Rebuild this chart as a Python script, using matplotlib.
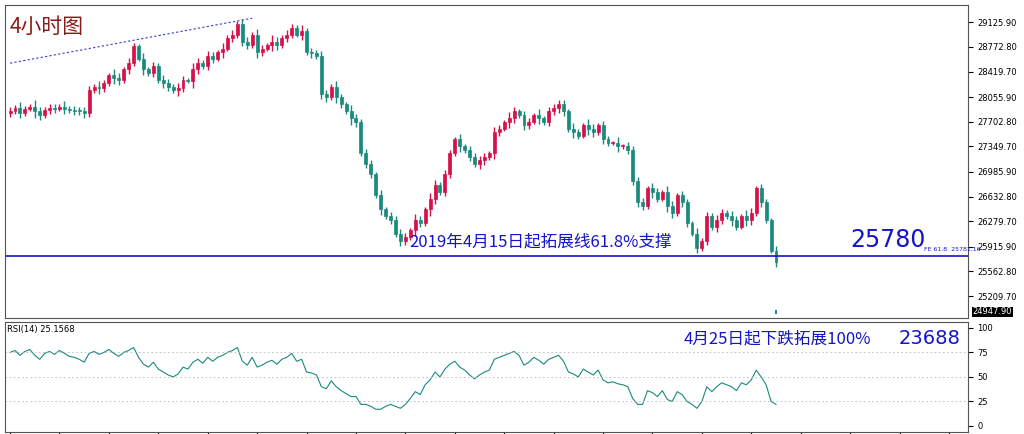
import matplotlib
matplotlib.use("Agg")
import matplotlib.pyplot as plt
import numpy as np

closes = [27860,27900,27830,27880,27920,27850,27800,27870,27900,27880,27920,27890,27870,27860,27850,27830,
          28150,28200,28180,28250,28370,28330,28300,28450,28550,28780,
          28600,28450,28400,28500,28300,28250,28200,28150,28180,
          28300,28280,28450,28550,28500,28650,28600,28700,28750,28900,28950,29100,
          28850,28800,28950,28700,28750,28800,28850,28800,28900,28950,29050,28950,29000,
          28700,28680,28650,28100,28050,28200,28050,27950,27850,27750,27700,27250,
          27100,26950,26650,26450,26350,26300,26100,26000,
          26050,26150,26300,26250,26450,26600,26800,26700,26950,27250,27450,
          27350,27300,27200,27100,27150,27200,27250,27550,
          27600,27700,27750,27850,27800,27650,27700,27800,27750,27700,27850,27900,27950,
          27850,27600,27550,27500,27650,27600,27550,27650,27450,27400,27400,27350,27350,27300,
          26850,26550,26500,26750,26700,26600,26700,26500,26400,26650,26550,26250,26100,25900,
          26000,26350,26200,26300,26400,26350,26300,26200,26350,26300,26400,26750,26550,26300,25850,25700]
wicks = [60,40,80,50,30,90,70,40,60,50,30,80,40,60,50,70]
rsi = [75,77,72,76,78,72,68,74,76,73,77,74,71,70,68,65,
       74,76,73,75,78,74,71,75,77,80,
       70,63,60,65,58,55,52,50,53,
       60,58,65,68,64,70,66,70,72,75,77,80,
       66,62,70,60,62,65,67,63,68,70,74,66,68,
       55,54,52,40,38,46,40,36,33,30,30,22,
       22,20,17,17,20,22,20,18,
       22,28,35,32,42,47,55,50,58,63,66,
       60,57,52,48,52,55,57,68,
       70,72,74,76,72,62,65,70,67,63,68,70,72,
       66,55,53,50,58,55,52,57,47,44,45,43,42,40,
       28,22,22,36,34,30,36,27,25,35,32,25,22,18,
       25,40,35,40,44,42,40,36,44,42,47,57,50,42,25,22]
rsi_ticks = [0,25,50,75,100]
price_ticks = [29125.9,28772.8,28419.7,28055.9,27702.8,27349.7,26985.9,26632.8,26279.7,25915.9,25562.8,25209.7]

N = len(closes)
up_c, dn_c = "#d6114a", "#1a8a7e"
fig = plt.figure(figsize=(10.24, 4.34), dpi=100)
ax = fig.add_axes([0.005, 0.267, 0.94, 0.721])
ax2 = fig.add_axes([0.005, 0.005, 0.94, 0.253])
xlim = (-1, N / 0.805)
opens = [closes[0] - 30] + closes[:-1]
for i, (o, c) in enumerate(zip(opens, closes)):
    col = up_c if c >= o else dn_c
    w = wicks[i % len(wicks)]
    ax.vlines(i, min(o, c) - w, max(o, c) + w, color=col, lw=1)
    ax.bar(i, max(abs(c - o), 15), bottom=min(o, c), width=0.6, color=col, edgecolor=col, lw=0.5)
ax.vlines(N - 1, 24960, 25010, color="#3a7a9a", lw=1.5)
ax.plot([0, 49], [28540, 29183], ls=(0, (2, 2)), color="#3b3bd0", lw=0.8)
ax.axhline(25781, color="#1414c8", lw=1.2)
ax.set_xlim(*xlim)
ax.set_ylim(24896, 29369)
ax.yaxis.tick_right()
ax.set_yticks(price_ticks)
ax.set_yticklabels([f"{t:.2f}" for t in price_ticks], fontsize=6)
ax.set_xticks([])
ax.text(0.005, 0.93, "4小时图", transform=ax.transAxes, color="#8b1a1a", fontsize=15,
        family=["Noto Sans CJK SC"], va="center")
cjk = ["Noto Sans CJK SC", "DejaVu Sans"]
ax.text(0.42, 0.245, "2019年4月15日起拓展线61.8%支撑", transform=ax.transAxes, color="#1414c8",
        fontsize=12, family=cjk, va="center")
ax.text(0.878, 0.25, "25780", transform=ax.transAxes, color="#1414c8", fontsize=17, va="center")
ax.text(0.955, 0.22, "FE 61.8  25781.16", transform=ax.transAxes, color="#1414c8", fontsize=4.5, va="center")
ax.text(1.005, 0.02, "24947.90", transform=ax.transAxes, color="white", fontsize=6, va="center",
        bbox=dict(fc="black", ec="none", pad=0.5))

ax2.plot(range(N), rsi, color="#1a8a7e", lw=0.8)
for t in (25, 50, 75):
    ax2.axhline(t, color="#bbbbbb", ls=(0, (2, 3)), lw=0.6)
ax2.set_xlim(*xlim)
ax2.set_ylim(-6, 106)
ax2.yaxis.tick_right()
ax2.set_yticks(rsi_ticks)
ax2.set_yticklabels([str(t) for t in rsi_ticks], fontsize=6)
ax2.set_xticks(np.arange(0, N / 0.805, 10))
ax2.tick_params(axis="x", length=3, labelbottom=False)
ax2.text(0.002, 0.93, "RSI(14) 25.1568", transform=ax2.transAxes, fontsize=6, va="center")
ax2.text(0.705, 0.85, "4月25日起下跌拓展100%", transform=ax2.transAxes, color="#1414c8",
         fontsize=12, family=cjk, va="center")
ax2.text(0.928, 0.85, "23688", transform=ax2.transAxes, color="#1414c8", fontsize=14, va="center")
for a in (ax, ax2):
    for s in a.spines.values():
        s.set_color("#555555")
fig.savefig("out.png", dpi=100)
